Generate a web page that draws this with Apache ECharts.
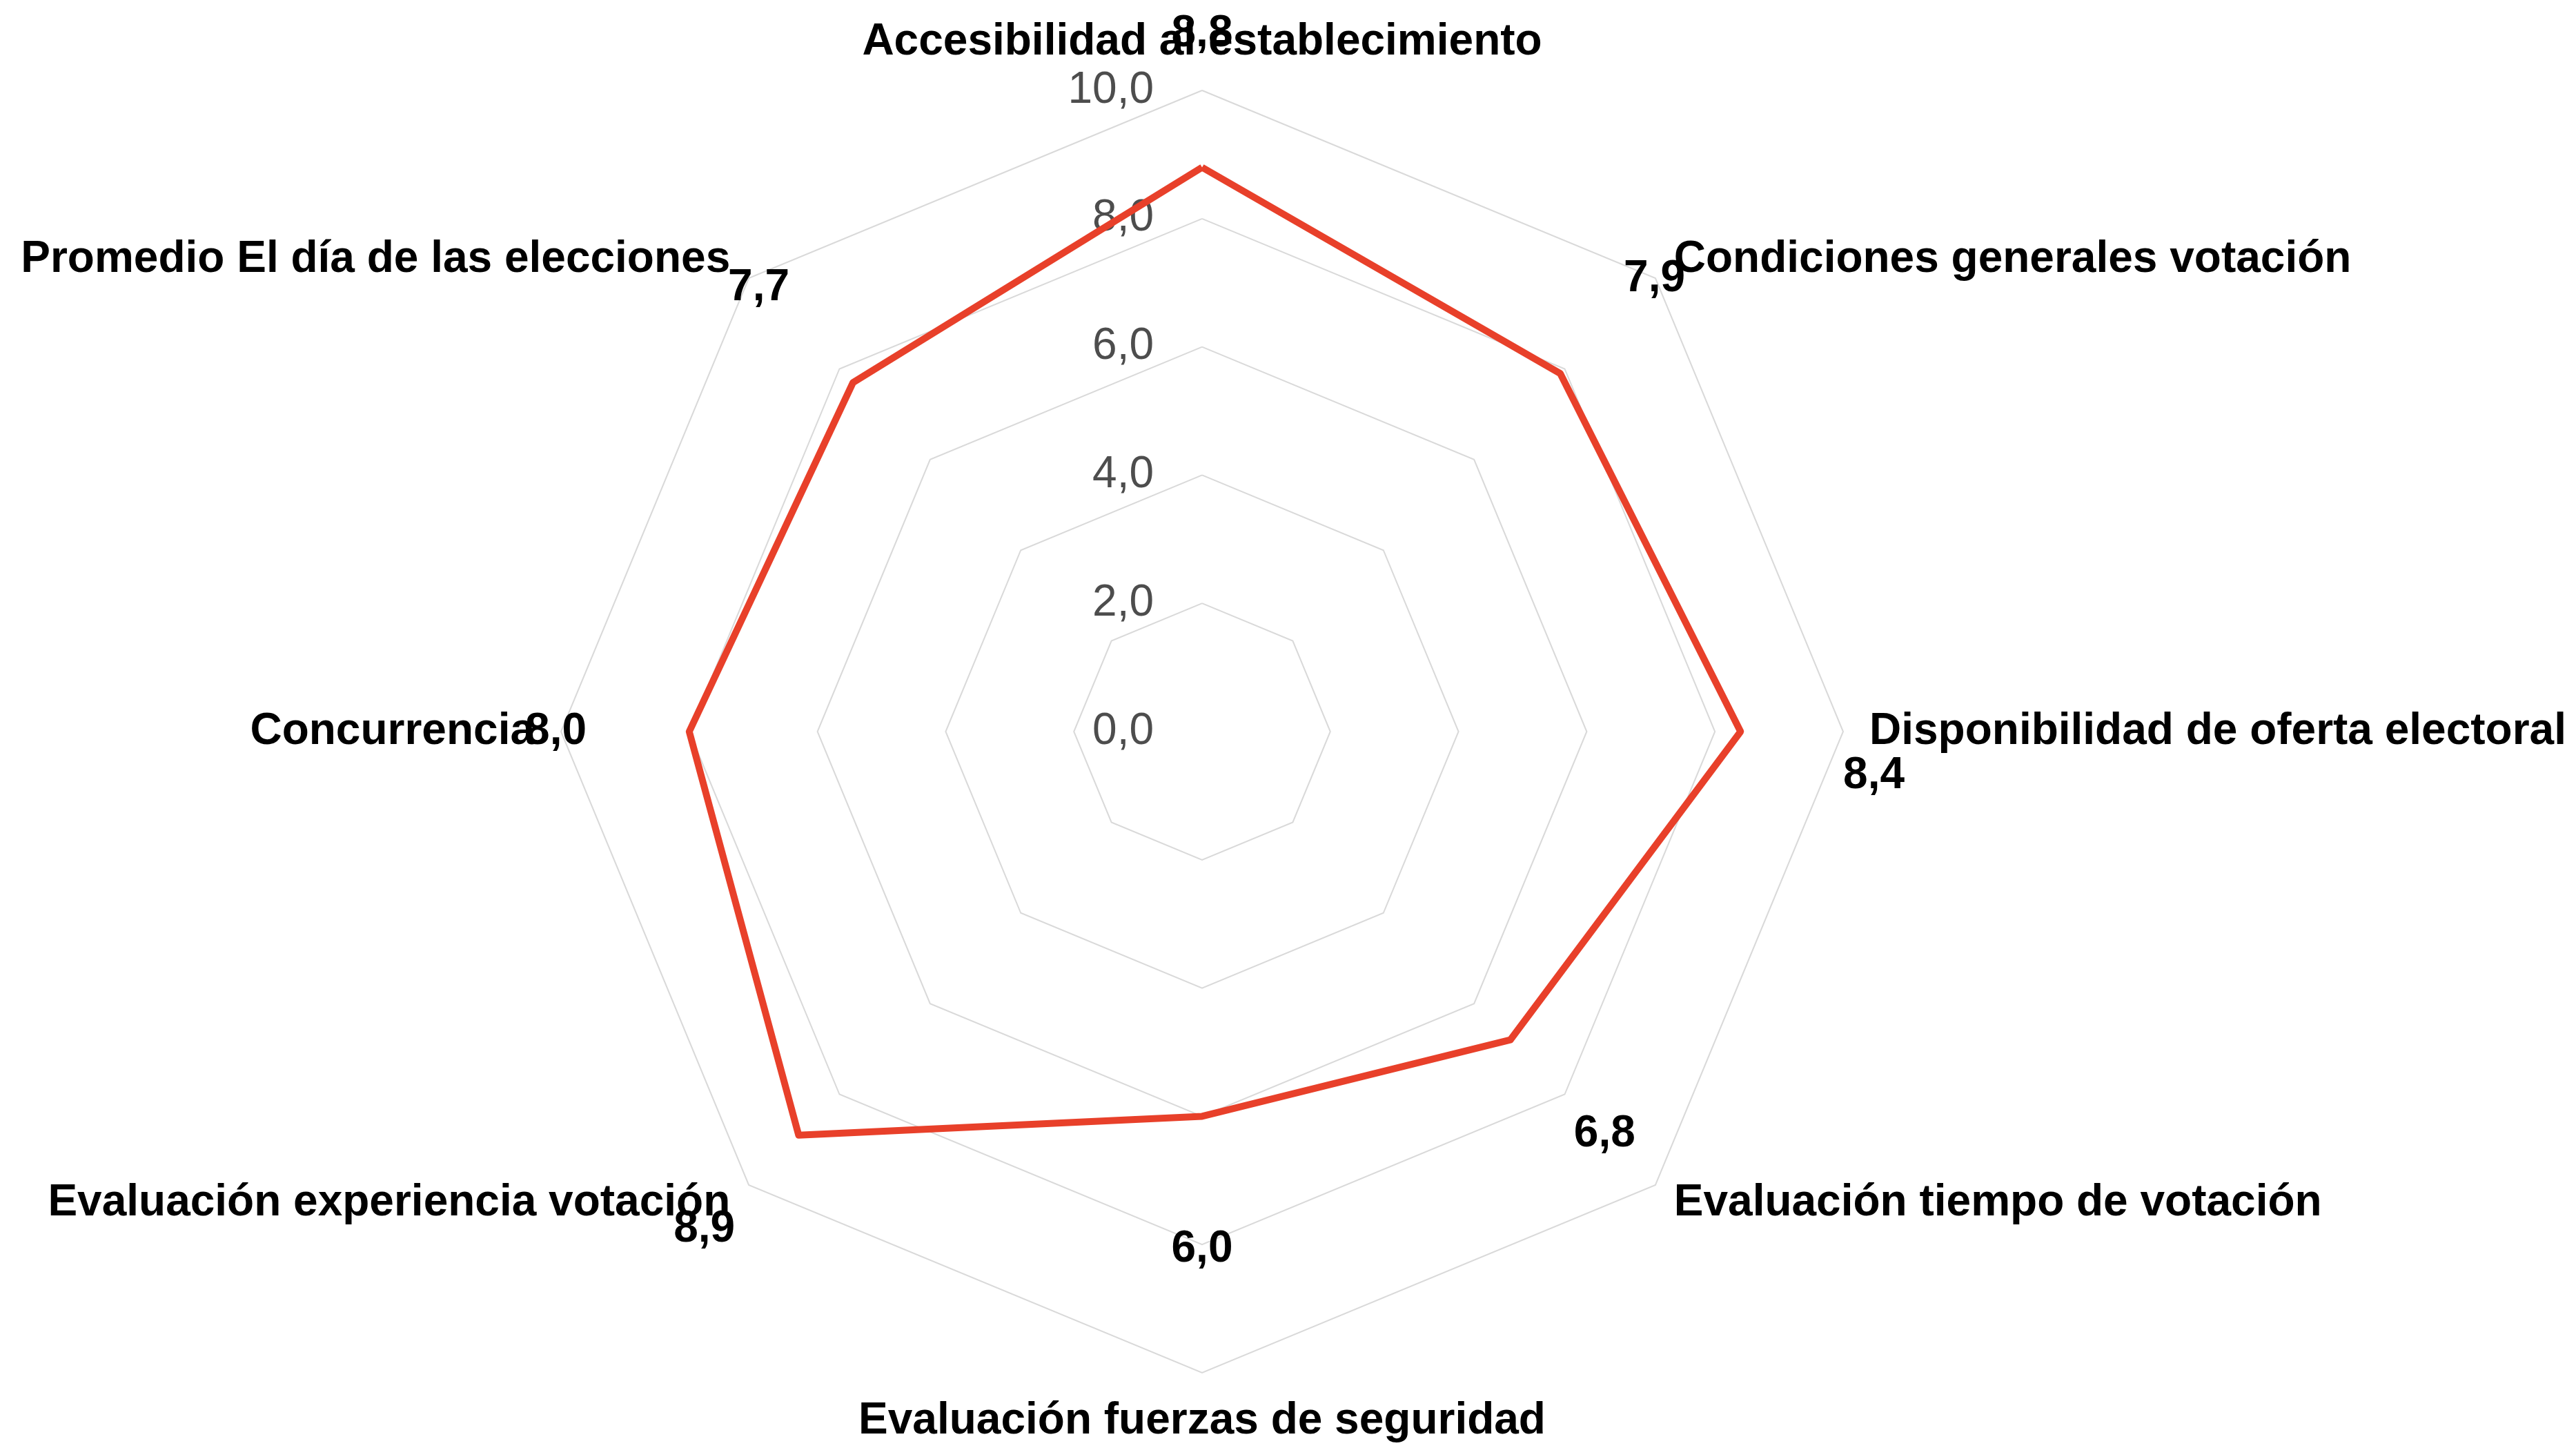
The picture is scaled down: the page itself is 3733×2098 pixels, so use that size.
<!DOCTYPE html>
<html>
<head>
<meta charset="utf-8">
<script src="https://cdn.jsdelivr.net/npm/echarts@6/dist/echarts.min.js"></script>
<style>
  html, body { margin: 0; padding: 0; background: #fff; }
  #chart { width: 3733px; height: 2098px; }
</style>
</head>
<body>
<div id="chart"></div>
<script>
// datos del radar (en sentido horario desde arriba)
const categories = [
  'Accesibilidad al establecimiento',
  'Condiciones generales votación',
  'Disponibilidad de oferta electoral',
  'Evaluación tiempo de votación',
  'Evaluación fuerzas de seguridad',
  'Evaluación experiencia votación',
  'Concurrencia',
  'Promedio El día de las elecciones'
];
const values = [8.8, 7.9, 8.4, 6.8, 6.0, 8.9, 8.0, 7.7];
const axisMin = 0;
const axisMax = 10;
const splitCount = 5;

// las etiquetas de valor van un poco por fuera del punto
const labelOffset = 2.08;
const shiftedLabel = 2; // "8,4" va desplazada hacia abajo

// echarts dibuja los ejes en sentido antihorario: se invierte el orden (menos el primero)
const order = [0].concat(categories.map((_, i) => i).slice(1).reverse());
const catsOrdered = order.map(i => categories[i]);
const valsOrdered = order.map(i => values[i]);
const labelValues = valsOrdered.map(v => v + labelOffset);

const fmt = v => v.toFixed(1).replace('.', ',');
const font = "'Liberation Sans', Arial, sans-serif";

const chart = echarts.init(document.getElementById('chart'));

const indicators = catsOrdered.map((name, i) => {
  const ind = { name: name, min: axisMin, max: axisMax };
  if (i === 0) {
    ind.axisLabel = {
      show: true,
      showMinLabel: true,
      showMaxLabel: true,
      color: '#4d4d4d',
      fontSize: 64,
      fontFamily: font,
      margin: 70,
      formatter: v => fmt(v)
    };
  }
  return ind;
});

const option = {
  animation: false,
  backgroundColor: '#fff',
  radar: {
    center: [1742, 1060],
    radius: 929,
    startAngle: 90,
    shape: 'polygon',
    splitNumber: splitCount,
    indicator: indicators,
    nameGap: 38,
    axisName: {
      color: '#000',
      fontWeight: 'bold',
      fontSize: 64,
      fontFamily: font
    },
    axisLine: { show: false },
    axisTick: { show: false },
    axisLabel: { show: false },
    splitArea: { show: false },
    splitLine: { lineStyle: { color: '#d9d9d9', width: 2 } }
  },
  series: [
    {
      type: 'radar',
      symbol: 'none',
      z: 3,
      lineStyle: { color: '#e8402a', width: 10 },
      data: [{ value: valsOrdered, name: 'Promedio' }]
    },
    {
      // serie invisible, solo para ubicar las etiquetas
      type: 'radar',
      symbol: 'circle',
      symbolSize: 1,
      z: 4,
      itemStyle: { color: 'transparent' },
      lineStyle: { width: 0, opacity: 0 },
      label: {
        show: true,
        position: 'inside',
        color: '#000',
        fontWeight: 'bold',
        fontSize: 64,
        fontFamily: font,
        lineHeight: 64,
        formatter: p => {
          const k = labelValues.indexOf(p.value);
          if (k < 0) return '';
          const txt = fmt(valsOrdered[k]);
          return order[k] === shiftedLabel ? '\n\n' + txt : txt;
        }
      },
      data: [{ value: labelValues, name: 'etiquetas' }]
    }
  ]
};

chart.setOption(option);
</script>
</body>
</html>
